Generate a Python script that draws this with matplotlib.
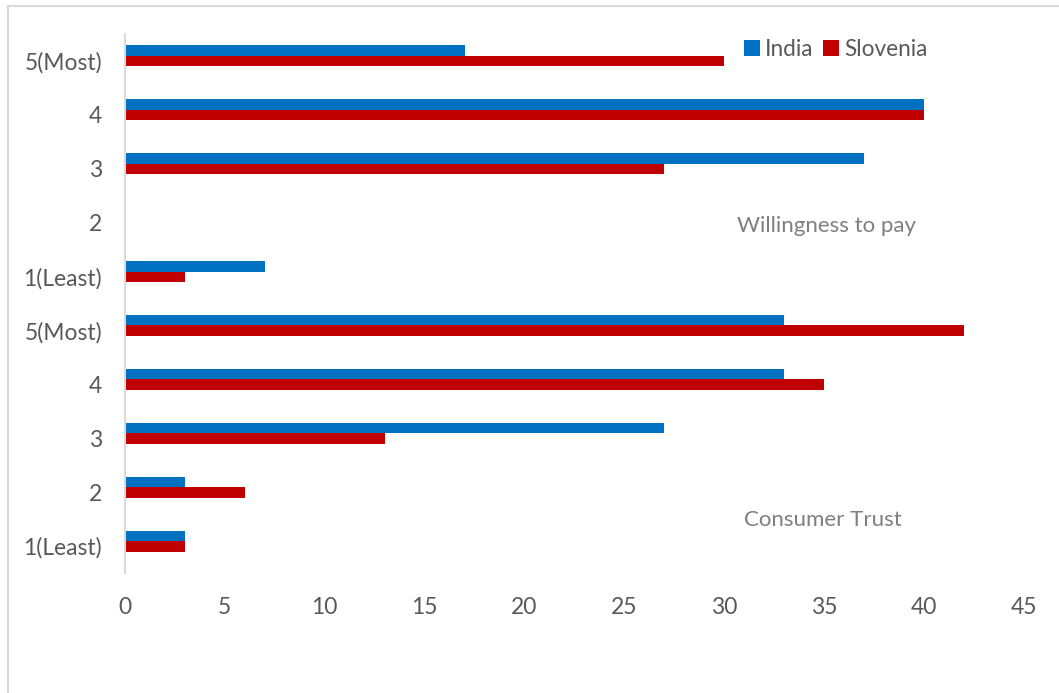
import numpy as np
import matplotlib.pyplot as plt
from matplotlib.lines import Line2D

plt.rcParams['font.family'] = ['Lato', 'DejaVu Sans']

# rows listed bottom to top: Consumer Trust block, then Willingness to pay block
labels = ['1(Least)', '2', '3', '4', '5(Most)',
          '1(Least)', '2', '3', '4', '5(Most)']
india = [3, 3, 27, 33, 33, 7, 0, 37, 40, 17]
slovenia = [3, 6, 13, 35, 42, 3, 0, 27, 40, 30]

blue = '#0070C0'
red = '#C00000'
grey = '#595959'

fig = plt.figure(figsize=(10.59, 6.93), dpi=100)
ax = fig.add_axes([125/1059, (693-573)/693, (1024-125)/1059, (573-34)/693])

y = np.arange(len(labels))
h = 0.195
shift = 0.093  # bar pair sits a little above the category centre
ax.barh(y + shift + h/2, india, height=h, color=blue, label='India')
ax.barh(y + shift - h/2, slovenia, height=h, color=red, label='Slovenia')

ax.set_xlim(0, 45)
ax.set_ylim(-0.5, len(labels) - 0.5)
ax.set_xticks(range(0, 46, 5))
ax.set_yticks(y)
ax.set_yticklabels(labels)
ax.tick_params(length=0, labelsize=16.5, colors=grey)
ax.tick_params(axis='x', pad=17)
ax.tick_params(axis='y', pad=16.5)
for s in ['top', 'right', 'bottom']:
    ax.spines[s].set_visible(False)
ax.spines['left'].set_color('#d9d9d9')
ax.spines['left'].set_linewidth(1.5)

ax.text(35.1, 5.93, 'Willingness to pay', color='#7f7f7f', fontsize=16,
        ha='center', va='center')
ax.text(34.95, 0.48, 'Consumer Trust', color='#7f7f7f', fontsize=16,
        ha='center', va='center')

ax.legend(loc='upper left', bbox_to_anchor=(0.6655, 1.029), ncol=2, frameon=False,
          fontsize=16.3, labelcolor=grey, handlelength=0.7, handleheight=0.7,
          handletextpad=0.25, columnspacing=0.4)

# light frame around the chart area
fig.add_artist(Line2D([7.5/1059, 7.5/1059], [0, (693-5.5)/693], color='#d9d9d9', lw=1.5))
fig.add_artist(Line2D([7.5/1059, 1], [(693-5.5)/693, (693-5.5)/693], color='#d9d9d9', lw=1.5))

fig.savefig('out.png', dpi=100)
